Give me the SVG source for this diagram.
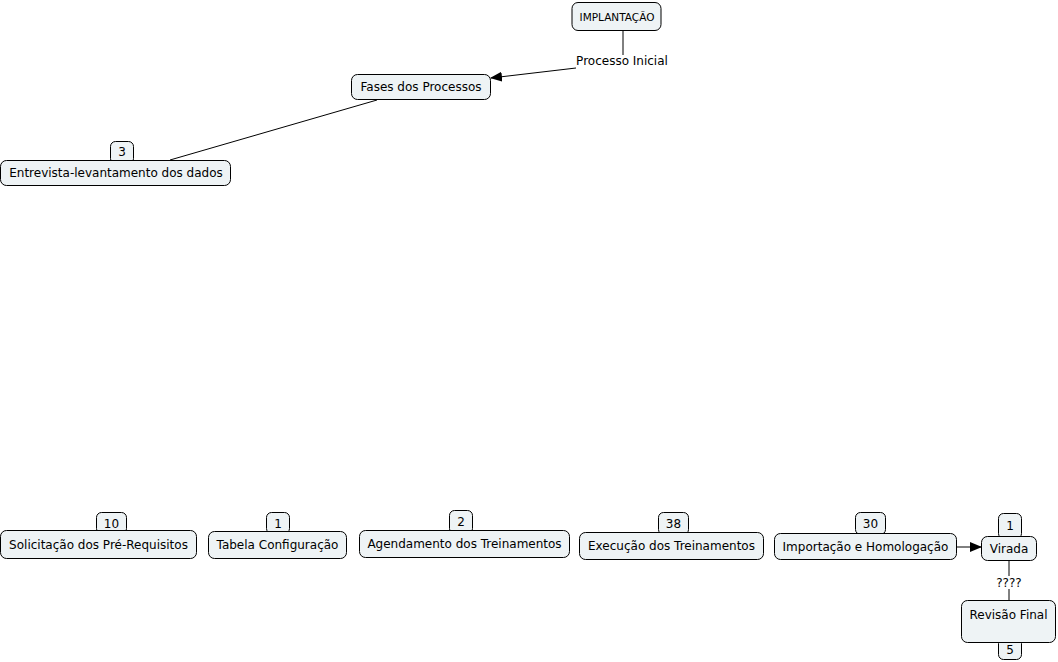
<svg xmlns="http://www.w3.org/2000/svg" width="1058" height="662" viewBox="0 0 1058 662">
<style>
.n{fill:#eef3f5;stroke:#000;stroke-width:1}
.t{font-family:"DejaVu Sans",Verdana,sans-serif;font-size:12px;fill:#000;text-anchor:middle}
.c{stroke:#000;stroke-width:1;fill:none}
</style>
<defs>
<marker id="ah" markerWidth="12" markerHeight="10" refX="11" refY="5" orient="auto" markerUnits="userSpaceOnUse">
<path d="M0,0 L12,5 L0,10 Z" fill="#000"/>
</marker>
</defs>
<rect width="1058" height="662" fill="#fff"/>
<g id="connectors">
<line class="c" x1="623" y1="30" x2="623" y2="55"/>
<line class="c" x1="576" y1="68" x2="491" y2="78" marker-end="url(#ah)"/>
<line class="c" x1="377" y1="100" x2="170" y2="160"/>
<line class="c" x1="957" y1="547" x2="981" y2="547" marker-end="url(#ah)"/>
<line class="c" x1="1009" y1="561" x2="1009" y2="576"/>
<line class="c" x1="1009" y1="589" x2="1009" y2="600"/>
<text class="t" x="622" y="65">Processo Inicial</text>
<text class="t" x="1009" y="587">????</text>
</g>
<g id="implantacao">
<rect class="n" x="572" y="2.5" width="89" height="28" rx="6"/>
<text class="t" x="617" y="20.5" style="font-size:10.5px">IMPLANTAÇÃO</text>
</g>
<g id="fases">
<rect class="n" x="351.5" y="74.5" width="139" height="25" rx="6"/>
<text class="t" x="421" y="91">Fases dos Processos</text>
</g>
<g id="entrevista">
<rect class="n" x="110.5" y="141.5" width="23" height="22" rx="5"/>
<text class="t" x="122" y="156">3</text>
<rect class="n" x="0.5" y="160.5" width="230" height="25" rx="6"/>
<text class="t" x="116" y="177">Entrevista-levantamento dos dados</text>
</g>
<g id="solicitacao">
<rect class="n" x="96.5" y="512.5" width="30" height="21" rx="5"/>
<text class="t" x="111.5" y="528">10</text>
<rect class="n" x="0.5" y="530.5" width="196" height="28" rx="6"/>
<text class="t" x="98.5" y="549">Solicitação dos Pré-Requisitos</text>
</g>
<g id="tabela">
<rect class="n" x="266.5" y="512.5" width="23" height="21" rx="5"/>
<text class="t" x="278" y="528">1</text>
<rect class="n" x="208.5" y="531.5" width="138" height="27" rx="6"/>
<text class="t" x="277.5" y="549">Tabela Configuração</text>
</g>
<g id="agendamento">
<rect class="n" x="449.5" y="510.5" width="23" height="23" rx="5"/>
<text class="t" x="461" y="526">2</text>
<rect class="n" x="359.5" y="530.5" width="210" height="27" rx="6"/>
<text class="t" x="464.5" y="548">Agendamento dos Treinamentos</text>
</g>
<g id="execucao">
<rect class="n" x="658.5" y="512.5" width="30" height="22" rx="5"/>
<text class="t" x="673.5" y="528">38</text>
<rect class="n" x="579.5" y="532.5" width="184" height="27" rx="6"/>
<text class="t" x="671.5" y="550">Execução dos Treinamentos</text>
</g>
<g id="importacao">
<rect class="n" x="855.5" y="512.5" width="30" height="22" rx="5"/>
<text class="t" x="870.5" y="528">30</text>
<rect class="n" x="774.5" y="533.5" width="182" height="26" rx="6"/>
<text class="t" x="865.5" y="551">Importação e Homologação</text>
</g>
<g id="virada">
<rect class="n" x="998.5" y="513.5" width="23" height="25" rx="5"/>
<text class="t" x="1010" y="530">1</text>
<rect class="n" x="981.5" y="536.5" width="55" height="24" rx="6"/>
<text class="t" x="1009" y="553">Virada</text>
</g>
<g id="revisao">
<rect class="n" x="998.5" y="638.5" width="23" height="21" rx="5"/>
<text class="t" x="1010" y="654">5</text>
<rect class="n" x="961.5" y="600.5" width="94" height="42" rx="6"/>
<text class="t" x="1008.5" y="619">Revisão Final</text>
</g>
</svg>
